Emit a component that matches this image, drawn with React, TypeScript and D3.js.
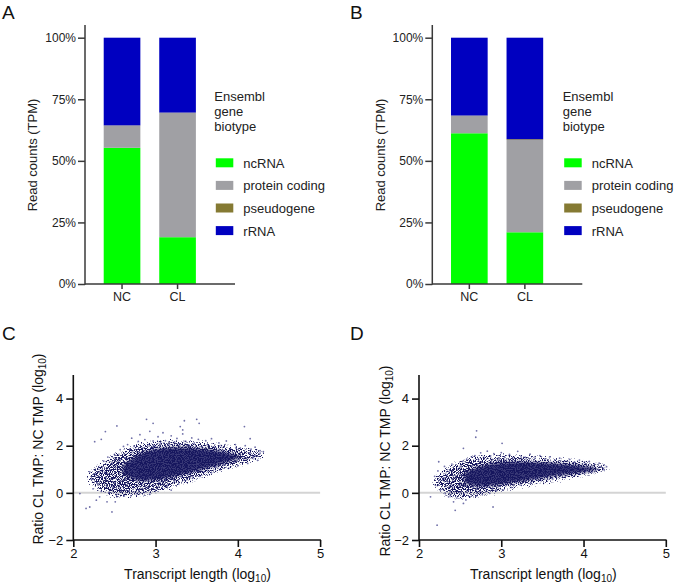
import { useRef, useEffect } from "react"
import * as d3 from "d3"

const FONT = "'Liberation Sans', Arial, Helvetica, sans-serif"
const NAVY = "#16165e"

const samples = ["NC", "CL"]
const biotypes = ["ncRNA", "protein coding", "pseudogene", "rRNA"]
const biotypeColors = ["#00ff00", "#a0a0a4", "#857a33", "#0000c0"]

// % of TPM per biotype (ncRNA, protein coding, pseudogene, rRNA)
const stacksA = [
  [55.3, 9.0, 0.1, 35.6],
  [19.0, 50.5, 0.1, 30.4],
]
const stacksB = [
  [61.2, 7.1, 0.1, 31.6],
  [21.0, 37.5, 0.3, 41.2],
]
const percentTicks = [0, 25, 50, 75, 100]
const ratioTicks = [-2, 0, 2, 4]
const lengthTicks = [2, 3, 4, 5]

// point clouds: [x, low, high] outlines of the whole spread and the dense core
const haloC = [
  [2.12, 0.45, 0.85], [2.3, -0.1, 1.35], [2.45, -0.3, 1.7], [2.6, -0.35, 2.0],
  [2.8, -0.3, 2.25], [3.0, -0.15, 2.35], [3.2, 0.05, 2.4], [3.4, 0.3, 2.35],
  [3.6, 0.55, 2.3], [3.8, 0.8, 2.2], [4.0, 1.0, 2.12], [4.2, 1.18, 2.05],
  [4.38, 1.42, 1.82],
]
const coreC = [
  [2.6, 0.8, 1.15], [2.75, 0.5, 1.6], [2.95, 0.5, 1.85], [3.15, 0.62, 1.93],
  [3.35, 0.8, 1.93], [3.55, 0.97, 1.88], [3.75, 1.17, 1.8], [3.9, 1.33, 1.7],
  [4.02, 1.47, 1.57],
]
const haloD = [
  [2.12, 0.25, 0.65], [2.3, -0.25, 1.2], [2.45, -0.4, 1.45], [2.6, -0.4, 1.65],
  [2.8, -0.25, 1.75], [3.0, -0.08, 1.78], [3.25, 0.1, 1.72], [3.5, 0.26, 1.67],
  [3.75, 0.42, 1.58], [4.0, 0.58, 1.5], [4.2, 0.7, 1.4], [4.37, 0.85, 1.22],
]
const coreD = [
  [2.55, 0.4, 0.85], [2.7, 0.25, 1.1], [2.9, 0.3, 1.28], [3.15, 0.45, 1.34],
  [3.45, 0.6, 1.3], [3.75, 0.77, 1.22], [4.0, 0.87, 1.15], [4.15, 0.95, 1.07],
]

// individual transcripts (log10 length, log10 ratio)
const pointsC = `
2.155,-0.66 2.2,-0.6 2.47,-0.81 2.39,2.6 2.53,2.84 2.89,3.12 2.97,2.95 3.35,3.06
3.5,3.12 3.53,2.95 4.08,2.81 4.15,2.3 3.3,2.81 3.33,2.67 2.26,2.17 2.34,2.27
2.2,0.89 2.08,-0.03 2.28,-0.31 2.32,-0.17 2.41,-0.38 2.53,-0.17 2.51,-0.38
4.27,1.68 4.31,1.75 4.21,1.6 3.98,1.89 4.06,1.54 4.14,1.68
2.22,0.58 2.24,0.17 2.27,0.79 2.29,0.42 2.31,1.08 2.34,0.06 2.35,0.63 2.37,1.34
2.38,0.88 2.41,0.27 2.42,1.52 2.43,0.02 2.45,0.97 2.47,1.23 2.49,0.21 2.5,1.63
2.52,-0.07 2.54,1.11 2.56,1.37 2.57,1.83 2.58,0.12 2.61,1.97 2.62,-0.13 2.63,1.48
2.66,2.05 2.69,1.82 2.71,2.32 2.74,1.97 2.79,2.18 2.81,2.47 2.84,1.9 2.87,2.26
2.91,2.05 2.93,2.61 2.97,2.2 2.99,1.98 3.03,2.38 3.06,2.12 3.09,2.55 3.12,2.21
3.16,2.02 3.19,2.42 3.23,2.16 3.26,2.31 3.29,2.08 3.33,2.5 3.36,2.19 3.4,2.03
3.44,2.33 3.47,2.11 3.52,2.27 3.56,1.98 3.61,2.21 3.63,2.05 3.68,2.3 3.72,1.93
3.77,2.12 3.8,2.0 3.86,2.2 3.91,1.88 3.97,2.05 4.03,1.9 4.09,2.0 4.16,1.85
4.21,1.94 4.27,1.79
2.67,0.08 2.7,-0.12 2.73,0.25 2.77,-0.03 2.8,0.12 2.83,0.38 2.86,0.02 2.9,0.22
2.93,-0.06 2.97,0.3 3.0,0.12 3.04,0.42 3.08,0.2 3.11,0.55 3.15,0.33 3.19,0.12
3.23,0.5 3.28,0.38 3.31,0.7 3.36,0.52 3.4,0.78 3.45,0.62 3.5,0.92 3.54,0.7
3.59,0.88 3.63,1.02 3.68,0.85 3.73,1.12 3.78,0.98 3.84,1.2 3.89,1.05 3.95,1.3
4.0,1.15 4.07,1.38 4.12,1.25 4.19,1.5 4.24,1.38
`
const pointsD = `
2.7,2.63 2.69,2.36 3.01,2.1 2.54,1.89 2.9,-0.6 2.22,-1.37 2.44,-0.74 2.54,-0.45
2.57,-0.3 2.14,-0.17 2.25,0.54 2.24,1.32 2.36,-0.17 2.42,-0.38 2.19,0.7
4.28,1.11 4.24,1.04 4.2,1.11
2.2,0.32 2.23,0.93 2.26,0.12 2.29,0.61 2.31,1.12 2.32,-0.03 2.35,0.47 2.38,-0.12
2.4,1.22 2.43,0.24 2.46,-0.22 2.48,1.03 2.51,0.33 2.53,1.33 2.55,-0.06 2.58,1.43
2.6,0.08 2.62,-0.17 2.64,1.52 2.66,0.21
2.68,1.58 2.72,1.43 2.75,1.7 2.79,1.52 2.83,1.77 2.87,1.57 2.91,1.66 2.96,1.46
3.0,1.71 3.04,1.52 3.1,1.63 3.14,1.49 3.2,1.76 3.24,1.56 3.29,1.51 3.35,1.64
3.41,1.47 3.47,1.58 3.53,1.43 3.59,1.53 3.65,1.39 3.71,1.47 3.77,1.36 3.83,1.42
3.89,1.31 3.95,1.39 4.01,1.29 4.07,1.33 4.13,1.23 4.19,1.26 4.25,1.19
2.7,-0.13 2.74,0.06 2.77,-0.07 2.82,0.13 2.86,-0.02 2.9,0.19 2.94,0.08 2.98,0.31
3.02,0.13 3.06,0.36 3.12,0.23 3.18,0.44 3.24,0.33 3.3,0.51 3.36,0.43 3.42,0.61
3.48,0.53 3.55,0.69 3.62,0.6 3.7,0.76 3.78,0.7 3.86,0.86 3.94,0.8 4.02,0.91
4.1,0.9 4.18,0.99 4.25,0.98
`

const parsePoints = (s) =>
  s.trim().split(/\s+/).map((p) => p.split(",").map(Number))

function drawBarPanel(svg, { letter, letterX, axisX, stacks, yLabelX, legendX }) {
  const g = svg.append("g")
  const y = d3.scaleLinear().domain([0, 100]).range([284, 37.7])
  const x = d3
    .scaleBand()
    .domain(samples)
    .range([axisX, axisX + 129.6])
    .paddingInner(0.34)
    .paddingOuter(0.337)

  const rows = samples.map((s, i) => {
    const r = { sample: s }
    biotypes.forEach((b, k) => (r[b] = stacks[i][k]))
    return r
  })
  const series = d3.stack().keys(biotypes)(rows)

  series.forEach((ser, k) => {
    g.append("g")
      .attr("fill", biotypeColors[k])
      .selectAll("rect")
      .data(ser)
      .enter()
      .append("rect")
      .attr("x", (d) => x(d.data.sample))
      .attr("width", x.bandwidth())
      .attr("y", (d) => y(d[1]))
      .attr("height", (d) => y(d[0]) - y(d[1]))
  })

  // axes
  const yAxis = g
    .append("g")
    .attr("transform", `translate(${axisX},0)`)
    .attr("color", "#3a3a3a")
    .call(d3.axisLeft(y).tickValues(percentTicks).tickFormat((d) => `${d}%`).tickSize(7).tickPadding(2))
  yAxis.select(".domain").remove()
  yAxis.selectAll("line").attr("stroke-width", 1.5)
  yAxis.selectAll("text").style("font-family", FONT).style("font-size", "12px").attr("fill", "#222")

  const xAxis = g
    .append("g")
    .attr("transform", `translate(0,284)`)
    .attr("color", "#3a3a3a")
    .call(d3.axisBottom(x).tickSize(5).tickPadding(3))
  xAxis.select(".domain").remove()
  xAxis.selectAll("line").attr("stroke-width", 1.5)
  xAxis.selectAll("text").style("font-family", FONT).style("font-size", "12.5px").attr("fill", "#222")

  g.append("line")
    .attr("x1", axisX).attr("x2", axisX)
    .attr("y1", 25).attr("y2", 284.75)
    .attr("stroke", "#3a3a3a").attr("stroke-width", 1.5)
  g.append("line")
    .attr("x1", axisX).attr("x2", axisX + 150)
    .attr("y1", 284).attr("y2", 284)
    .attr("stroke", "#3a3a3a").attr("stroke-width", 1.5)

  g.append("text")
    .attr("transform", `translate(${yLabelX},155) rotate(-90)`)
    .attr("text-anchor", "middle")
    .style("font-family", FONT)
    .style("font-size", "13px")
    .attr("fill", "#222")
    .text("Read counts (TPM)")

  // legend
  const titleLines = ["Ensembl", "gene", "biotype"]
  titleLines.forEach((t, i) => {
    g.append("text")
      .attr("x", legendX)
      .attr("y", 101 + i * 15)
      .style("font-family", FONT)
      .style("font-size", "13px")
      .attr("fill", "#222")
      .text(t)
  })
  biotypes.forEach((b, k) => {
    const top = 158.3 + k * 22.6
    g.append("rect")
      .attr("x", legendX + 1.5).attr("y", top)
      .attr("width", 17.5).attr("height", 9)
      .attr("fill", biotypeColors[k])
    g.append("text")
      .attr("x", legendX + 29)
      .attr("y", top + 9.5)
      .style("font-family", FONT)
      .style("font-size", "13px")
      .attr("fill", "#222")
      .text(b)
  })

  g.append("text")
    .attr("x", letterX).attr("y", 18.5)
    .style("font-family", FONT).style("font-size", "19px")
    .attr("fill", "#111")
    .text(letter)
}

function drawScatterPanel(svg, { letter, letterX, axisX, halo, core, points, yTitle, xTitleX }) {
  const g = svg.append("g")
  const x = d3.scaleLinear().domain([2, 5]).range([axisX, axisX + 246.8])
  const y = d3.scaleLinear().domain([-2, 5]).range([540, 375])

  // zero line
  g.append("line")
    .attr("x1", x(2)).attr("x2", x(5))
    .attr("y1", y(0)).attr("y2", y(0))
    .attr("stroke", "#d4d4d4").attr("stroke-width", 2)

  const band = d3
    .area()
    .x((d) => x(d[0]))
    .y0((d) => y(d[1]))
    .y1((d) => y(d[2]))
    .curve(d3.curveBasis)

  // grainy spread, fading towards its edge
  g.append("path").datum(halo).attr("d", band)
    .attr("fill", NAVY).attr("filter", "url(#grain)")
  g.append("path").datum(core).attr("d", band)
    .attr("fill", NAVY).attr("opacity", 0.85).attr("filter", "url(#soft1)")

  g.append("g")
    .selectAll("circle")
    .data(points)
    .enter()
    .append("circle")
    .attr("cx", (d) => x(d[0]))
    .attr("cy", (d) => y(d[1]))
    .attr("r", 0.9)
    .attr("fill", "#24247a")
    .attr("opacity", 0.65)

  const yAxis = g
    .append("g")
    .attr("transform", `translate(${axisX},0)`)
    .attr("color", "#111")
    .call(d3.axisLeft(y).tickValues(ratioTicks).tickFormat(d3.format("d")).tickSize(7).tickPadding(3))
  yAxis.select(".domain").remove()
  yAxis.selectAll("line").attr("stroke-width", 1.6)
  yAxis.selectAll("text").style("font-family", FONT).style("font-size", "13px").attr("fill", "#111")

  const xAxis = g
    .append("g")
    .attr("transform", `translate(0,540)`)
    .attr("color", "#111")
    .call(d3.axisBottom(x).tickValues(lengthTicks).tickFormat(d3.format("d")).tickSize(7).tickPadding(2))
  xAxis.select(".domain").remove()
  xAxis.selectAll("line").attr("stroke-width", 1.6)
  xAxis.selectAll("text").style("font-family", FONT).style("font-size", "13px").attr("fill", "#111")

  g.append("line")
    .attr("x1", axisX).attr("x2", axisX)
    .attr("y1", 375).attr("y2", 540.8)
    .attr("stroke", "#111").attr("stroke-width", 1.6)
  g.append("line")
    .attr("x1", axisX).attr("x2", x(5) + 0.8)
    .attr("y1", 540).attr("y2", 540)
    .attr("stroke", "#111").attr("stroke-width", 1.6)

  // y title with subscript
  const yt = g.append("text")
    .attr("transform", `translate(${yTitle[0]},${yTitle[1]}) rotate(-90)`)
    .attr("text-anchor", "middle")
    .style("font-family", FONT)
    .style("font-size", "14px")
    .attr("fill", "#111")
  yt.append("tspan").text("Ratio CL TMP: NC TMP (log")
  yt.append("tspan").attr("dy", 3).style("font-size", "10px").text("10")
  yt.append("tspan").attr("dy", -3).text(")")

  const xt = g.append("text")
    .attr("x", xTitleX).attr("y", 579)
    .attr("text-anchor", "middle")
    .style("font-family", FONT)
    .style("font-size", "14px")
    .attr("fill", "#111")
  xt.append("tspan").text("Transcript length (log")
  xt.append("tspan").attr("dy", 3).style("font-size", "10px").text("10")
  xt.append("tspan").attr("dy", -3).text(")")

  g.append("text")
    .attr("x", letterX).attr("y", 339.5)
    .style("font-family", FONT).style("font-size", "19px")
    .attr("fill", "#111")
    .text(letter)
}

const Figure = () => {
  const svgRef = useRef(null)

  useEffect(() => {
    const svg = d3.select(svgRef.current)
    svg.selectAll("*").remove()

    const defs = svg.append("defs")
    defs.append("filter").attr("id", "soft1").append("feGaussianBlur").attr("stdDeviation", 1.8)

    // speckle texture: blurred shape alpha times noise, then thresholded
    const grain = defs.append("filter")
      .attr("id", "grain")
      .attr("x", "-20%").attr("y", "-40%")
      .attr("width", "140%").attr("height", "180%")
      .attr("color-interpolation-filters", "sRGB")
    grain.append("feGaussianBlur").attr("in", "SourceAlpha").attr("stdDeviation", 5.5).attr("result", "soft")
    grain.append("feTurbulence")
      .attr("type", "fractalNoise").attr("baseFrequency", 0.85)
      .attr("numOctaves", 2).attr("seed", 7).attr("result", "noise")
    grain.append("feColorMatrix")
      .attr("in", "noise").attr("type", "matrix")
      .attr("values", "0 0 0 0 0  0 0 0 0 0  0 0 0 0 0  1 0 0 0 0")
      .attr("result", "noiseA")
    grain.append("feComposite")
      .attr("in", "soft").attr("in2", "noiseA")
      .attr("operator", "arithmetic")
      .attr("k1", 1).attr("k2", 0).attr("k3", 0).attr("k4", 0)
      .attr("result", "prod")
    grain.append("feColorMatrix")
      .attr("in", "prod").attr("type", "matrix")
      .attr("values", "0 0 0 0 0  0 0 0 0 0  0 0 0 0 0  0 0 0 9 -3.8")
      .attr("result", "speck")
    grain.append("feFlood").attr("flood-color", NAVY).attr("result", "ink")
    grain.append("feComposite").attr("in", "ink").attr("in2", "speck").attr("operator", "in")

    drawBarPanel(svg, { letter: "A", letterX: 2, axisX: 85, stacks: stacksA, yLabelX: 37, legendX: 214.3 })
    drawBarPanel(svg, { letter: "B", letterX: 350, axisX: 432.3, stacks: stacksB, yLabelX: 384.5, legendX: 562.7 })

    drawScatterPanel(svg, {
      letter: "C", letterX: 2, axisX: 73.3, halo: haloC, core: coreC,
      points: parsePoints(pointsC), yTitle: [43, 449], xTitleX: 197.5,
    })
    drawScatterPanel(svg, {
      letter: "D", letterX: 350, axisX: 419, halo: haloD, core: coreD,
      points: parsePoints(pointsD), yTitle: [390, 461], xTitleX: 543.3,
    })
  }, [])

  return <svg ref={svgRef} width={675} height={585} style={{ display: "block" }}></svg>
}

export default function App() {
  return (
    <div style={{ position: "absolute", left: 0, top: 0, background: "#fff" }}>
      <Figure />
    </div>
  )
}
